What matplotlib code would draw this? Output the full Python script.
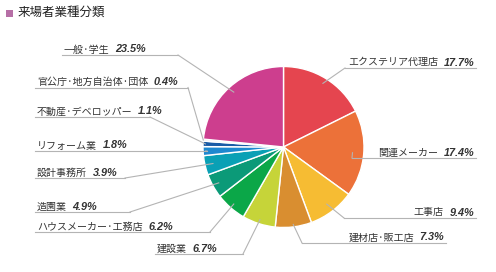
import numpy as np
import matplotlib
matplotlib.use('Agg')
import matplotlib.pyplot as plt

W, H = 496, 272

# データ
labels = ['エクステリア代理店', '関連メーカー', '工事店', '建材店·販工店', '建設業',
          'ハウスメーカー·工務店', '造園業', '設計事務所', 'リフォーム業',
          '不動産·デベロッパー', '官公庁·地方自治体·団体', '一般·学生']
values = [17.7, 17.4, 9.4, 7.3, 6.7, 6.2, 4.9, 3.9, 1.8, 1.1, 0.4, 23.5]
colors = ['#E5454F', '#EC7139', '#F6BC33', '#D98E30', '#C6D439', '#0BA748',
          '#0B9A78', '#0AA0B5', '#1E88CF', '#1A5BA6', '#F2ECF2', '#CD3E8E']

# ラベルの配置 (underline x0, x1, y [px from top], 揃え, アンカー半径)
layout = [
    (345, 476, 68, 'right', 0.93),
    (352, 476, 158, 'right', 0.86),
    (344, 476, 218, 'right', 0.89),
    (302, 446, 243, 'right', 0.97),
    (155, 243, 254, 'left', 0.95),
    (35, 210, 232, 'left', 0.94),
    (35, 130, 212, 'left', 0.92),
    (35, 125, 178, 'left', 0.90),
    (35, 207, 151, 'left', 0.97),
    (35, 150, 117, 'left', 0.97),
    (35, 188, 87.5, 'left', 1.0),
    (62, 178, 55, 'left', 0.92),
]

plt.rcParams['font.family'] = ['Noto Sans CJK JP', 'DejaVu Sans']

fig = plt.figure(figsize=(W / 100, H / 100), dpi=100)
ax = fig.add_axes([0, 0, 1, 1])

cx, cy, R = 283.5, H - 147, 80.5
wedges, _ = ax.pie(values, colors=colors, startangle=90, counterclock=False,
                   center=(cx, cy), radius=R,
                   wedgeprops=dict(edgecolor='white', linewidth=1.0))
ax.set_xlim(0, W)
ax.set_ylim(0, H)
ax.set_aspect('equal')
ax.axis('off')

line_c = '#B4B4B4'
txt_c = '#333333'
for w, lab, v, (x0, x1, yl, side, rf) in zip(wedges, labels, values, layout):
    mid = np.deg2rad((w.theta1 + w.theta2) / 2)
    axp = cx + rf * R * np.cos(mid)
    ayp = cy + rf * R * np.sin(mid)
    y = H - yl
    inner = x0 if side == 'right' else x1
    ax.plot([axp, inner], [ayp, y], color=line_c, lw=0.8, zorder=3)
    ax.plot([x0, x1], [y, y], color=line_c, lw=0.8, zorder=3)
    pct = f'{v}%'
    if side == 'right':
        tp = ax.text(x1 - 2, y + 2.5, pct, ha='right', va='baseline', fontsize=7.8,
                     family='Liberation Sans', weight='bold', style='italic', color=txt_c)
        ax.annotate(lab, xy=(0, y + 2.5), xycoords=(tp, 'data'), xytext=(-4, 0),
                    textcoords='offset points', ha='right', va='baseline',
                    fontsize=7.2, color=txt_c)
    else:
        tl = ax.text(x0 + 2, y + 2.5, lab, ha='left', va='baseline', fontsize=7.2, color=txt_c)
        ax.annotate(pct, xy=(1, y + 2.5), xycoords=(tl, 'data'), xytext=(4, 0),
                    textcoords='offset points', ha='left', va='baseline', fontsize=7.8,
                    family='Liberation Sans', weight='bold', style='italic', color=txt_c)

# タイトル
ax.add_patch(plt.Rectangle((6, H - 17), 7, 7, color='#B66FA6', lw=0))
ax.text(18, H - 12.5, '来場者業種分類', ha='left', va='center', fontsize=9, color='#222222')

fig.savefig('out.png', dpi=100)
